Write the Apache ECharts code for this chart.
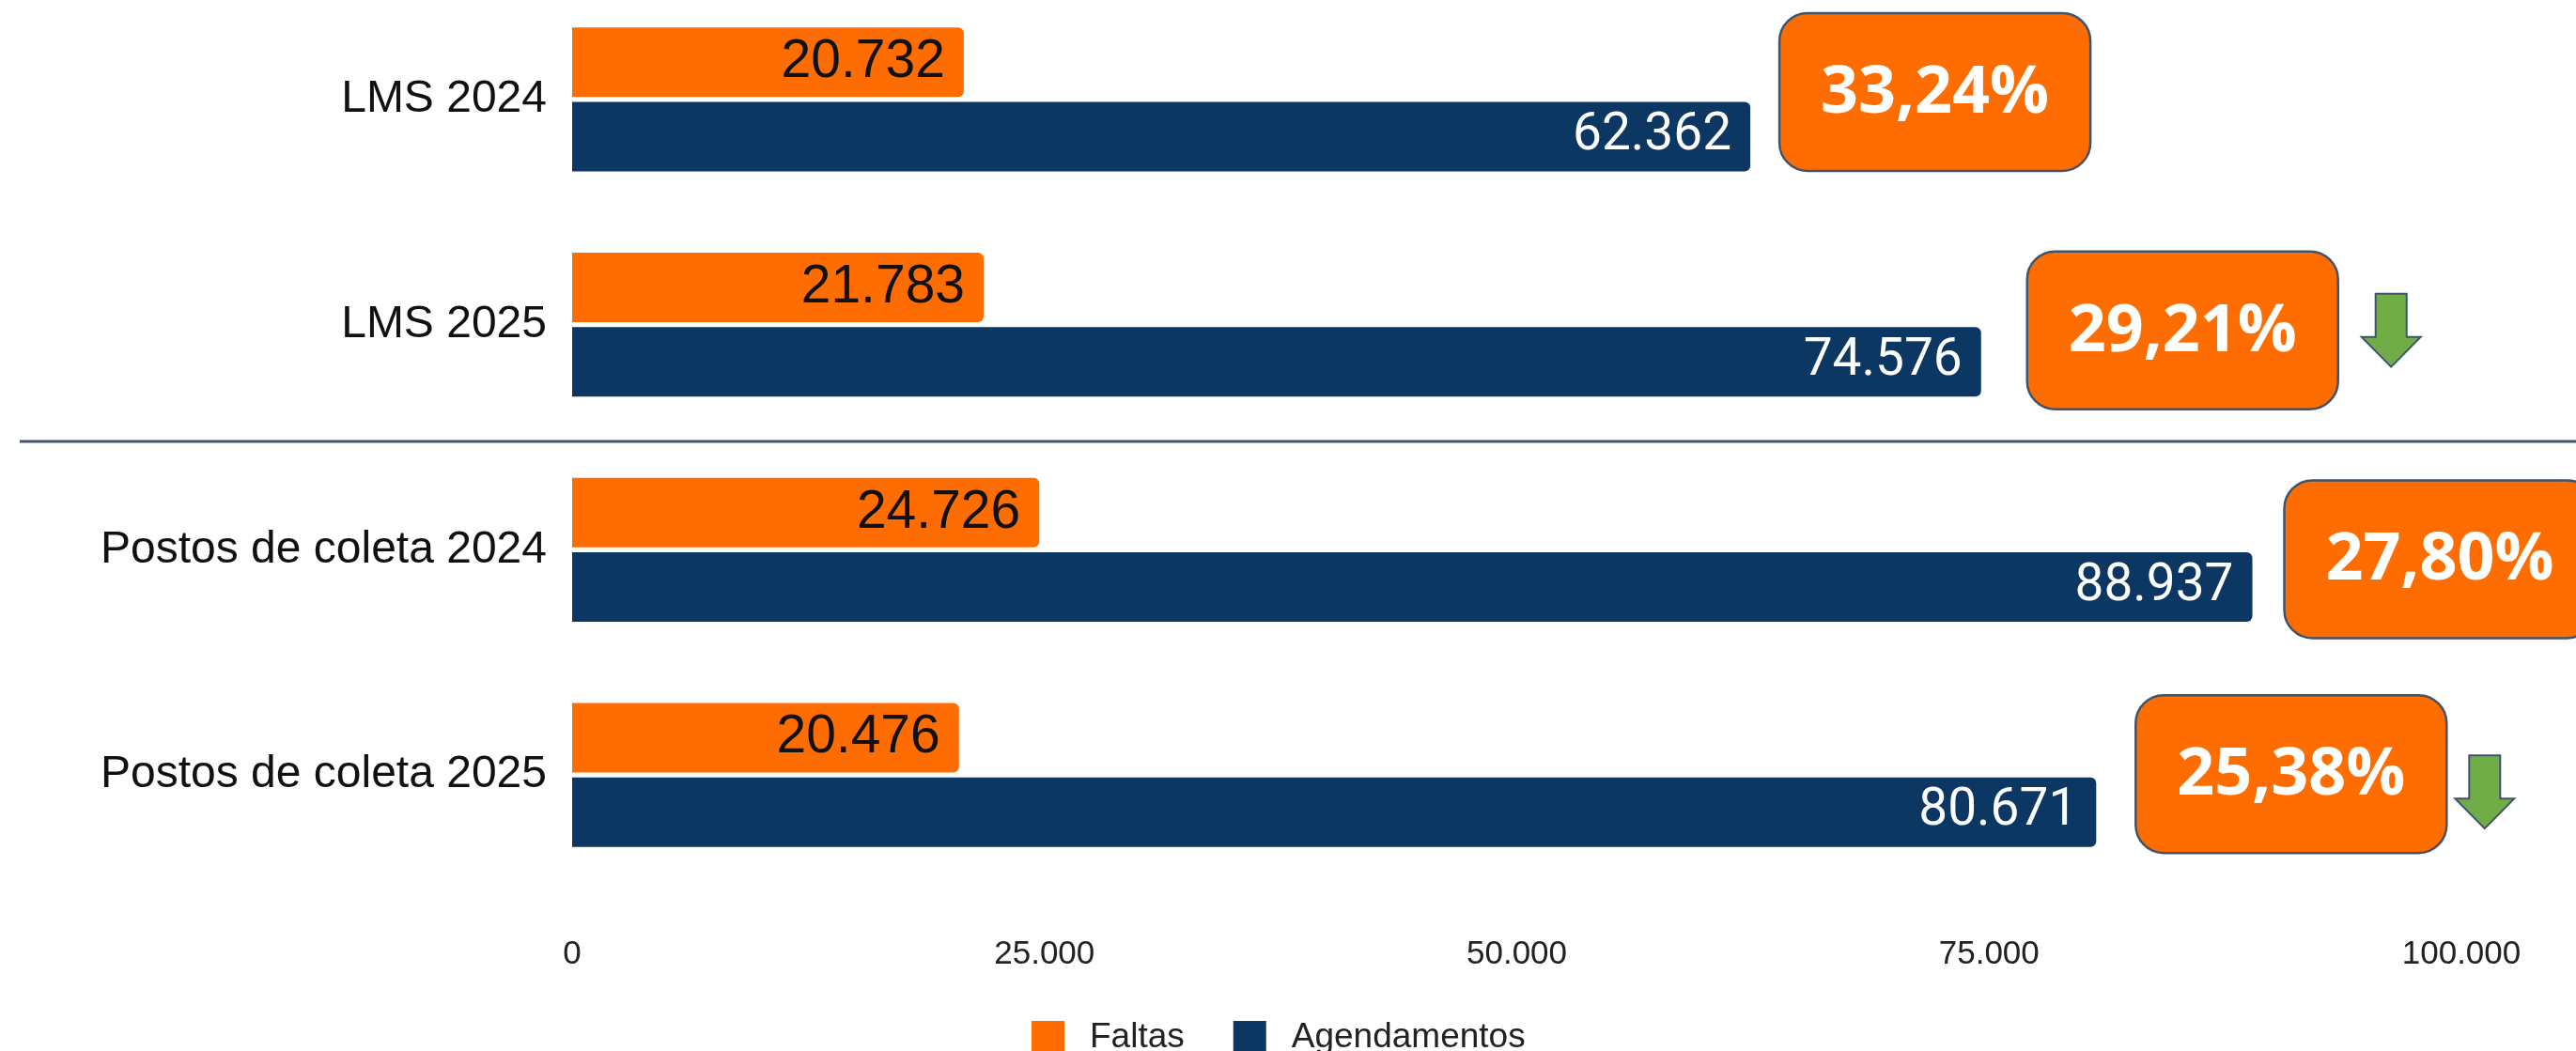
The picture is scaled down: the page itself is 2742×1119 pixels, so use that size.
<!DOCTYPE html>
<html>
<head>
<meta charset="utf-8">
<script src="https://cdn.jsdelivr.net/npm/echarts@6/dist/echarts.min.js"></script>
<style>
  html, body { margin: 0; padding: 0; background: #fff; }
  #chart { width: 2742px; height: 1119px; }
</style>
</head>
<body>
<div id="chart"></div>
<script>
var categories = ['LMS 2024', 'LMS 2025', 'Postos de coleta 2024', 'Postos de coleta 2025'];
var faltas = [20732, 21783, 24726, 20476];
var agendamentos = [62362, 74576, 88937, 80671];
var pctLabels = ['33,24%', '29,21%', '27,80%', '25,38%'];
var trendDown = [false, true, false, true];
var xTicks = [0, 25000, 50000, 75000, 100000];

var orange = '#ff6d00';
var navy = '#0b3762';
var green = '#70ad47';
var edge = '#41536b';

// layout of the annotation boxes (gap from bar end, vertical nudge)
var boxGap = [31, 49, 34, 42];
var boxDy = [-8, 6, 10, -1];
var arrowGap = [0, 25, 0, 9];
var arrowDy = [0, 0, 0, 19];

function fmt(v) {
  return String(v).replace(/\B(?=(\d{3})+(?!\d))/g, '.');
}

var chart = echarts.init(document.getElementById('chart'), null, { renderer: 'canvas' });
chart.setOption({
  animation: false,
  grid: { left: 609, right: 122, top: -14, bottom: 174, outerBoundsMode: 'none' },
  legend: {
    data: ['Faltas', 'Agendamentos'],
    left: 1098, top: 1086, padding: 0,
    itemWidth: 35, itemHeight: 35, itemGap: 52, icon: 'rect',
    textStyle: { fontFamily: 'Liberation Sans', fontSize: 37, color: '#222', padding: [4, 0, 0, 22] }
  },
  xAxis: {
    type: 'value', min: xTicks[0], max: xTicks[xTicks.length - 1], interval: xTicks[1] - xTicks[0],
    axisLine: { show: false }, axisTick: { show: false }, splitLine: { show: false },
    axisLabel: { margin: 54, fontFamily: 'Liberation Sans', fontSize: 35, color: '#222', formatter: fmt }
  },
  yAxis: {
    type: 'category', data: categories, inverse: true,
    axisLine: { show: false }, axisTick: { show: false },
    axisLabel: { margin: 27, fontFamily: 'Liberation Sans', fontSize: 48, color: '#111' }
  },
  series: [
    {
      name: 'Faltas', type: 'bar', data: faltas, barWidth: 74, barGap: '7%',
      itemStyle: { color: orange, borderRadius: [0, 6, 6, 0] },
      label: { show: true, position: 'insideRight', distance: 20, fontFamily: 'Liberation Sans', fontSize: 57, color: '#111', formatter: function (p) { return fmt(p.value); } }
    },
    {
      name: 'Agendamentos', type: 'bar', data: agendamentos, barWidth: 74, barGap: '7%',
      itemStyle: { color: navy, borderRadius: [0, 6, 6, 0] },
      label: { show: true, position: 'insideRight', distance: 20, fontFamily: 'Roboto', fontSize: 55, color: '#fff', formatter: function (p) { return fmt(p.value); } }
    }
  ]
});

// annotations: percentage boxes, arrows, divider
var boxW = 331, boxH = 168;
var graphics = [];
var c1 = chart.convertToPixel({ yAxisIndex: 0 }, 1);
var c2 = chart.convertToPixel({ yAxisIndex: 0 }, 2);
var divY = Math.round((c1 + c2) / 2) + 4;
graphics.push({
  type: 'line', shape: { x1: 21, y1: divY, x2: 2742, y2: divY },
  style: { stroke: '#44546a', lineWidth: 3 }
});
categories.forEach(function (cat, i) {
  var end = chart.convertToPixel({ xAxisIndex: 0, yAxisIndex: 0 }, [agendamentos[i], i]);
  var bx = end[0] + boxGap[i];
  var cy = end[1] + boxDy[i];
  graphics.push({
    type: 'group', x: bx, y: cy - boxH / 2,
    children: [
      { type: 'rect', shape: { x: 0, y: 0, width: boxW, height: boxH, r: 30 },
        style: { fill: orange, stroke: edge, lineWidth: 2.5 } },
      { type: 'text', x: boxW / 2, y: boxH / 2 + 2,
        style: { text: pctLabels[i], fill: '#fff', font: 'bold 70px "Open Sans"', textAlign: 'center', textVerticalAlign: 'middle' } }
    ]
  });
  if (trendDown[i]) {
    var ax = bx + boxW + arrowGap[i];
    var ay = cy + arrowDy[i] - 39;
    graphics.push({
      type: 'polygon', x: ax, y: ay,
      shape: { points: [[15, 0], [48, 0], [48, 46], [63, 46], [31.5, 78], [0, 46], [15, 46]] },
      style: { fill: green, stroke: edge, lineWidth: 2 }
    });
  }
});
chart.setOption({ graphic: graphics });
window.addEventListener('resize', function () { chart.resize(); });
</script>
</body>
</html>
